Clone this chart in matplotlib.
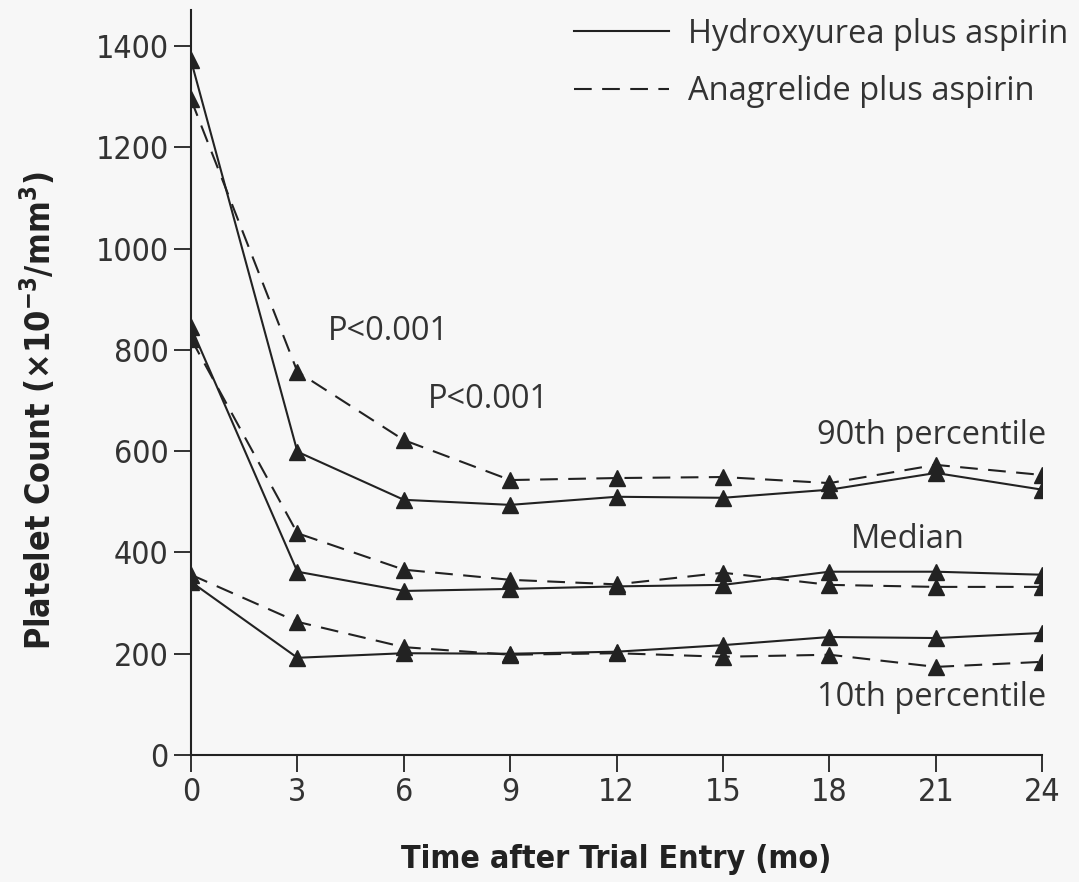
#!/usr/bin/env python3
"""Platelet count over time: hydroxyurea vs anagrelide (10th, median, 90th percentiles)."""

import matplotlib
matplotlib.use("Agg")
import matplotlib.pyplot as plt
from matplotlib.lines import Line2D

# ---------------------------------------------------------------------------
# Data
# ---------------------------------------------------------------------------
months = [0, 3, 6, 9, 12, 15, 18, 21, 24]

hu_p90 = [1372, 599, 504, 494, 510, 508, 524, 557, 524]
hu_med = [845, 362, 324, 328, 333, 336, 362, 362, 356]
hu_p10 = [342, 192, 201, 200, 204, 217, 233, 231, 241]

an_p90 = [1295, 757, 622, 543, 547, 549, 537, 573, 553]
an_med = [822, 438, 366, 346, 337, 360, 336, 332, 332]
an_p10 = [356, 263, 213, 198, 201, 194, 198, 174, 184]

legend_labels = ["Hydroxyurea plus aspirin", "Anagrelide plus aspirin"]
y_ticks = [0, 200, 400, 600, 800, 1000, 1200, 1400]

# ---------------------------------------------------------------------------
# Style
# ---------------------------------------------------------------------------
BG = "#f7f7f7"
INK = "#222222"
TXT = "#333333"
NARROW = dict(family="DejaVu Sans", fontstretch="condensed")
BODY = ["Open Sans", "DejaVu Sans"]
FS = 23.5

plt.rcParams["mathtext.default"] = "regular"

fig = plt.figure(figsize=(10.79, 8.82), dpi=100, facecolor=BG)
ax = fig.add_axes([0.177, 0.144, 0.789, 0.845])
ax.set_facecolor(BG)

dash = (0, (8.5, 5))
line_kw = dict(color=INK, lw=1.5, marker="^", ms=11, mfc=INK, mec=INK)

for series in (hu_p90, hu_med, hu_p10):
    ax.plot(months, series, ls="-", **line_kw, zorder=3)
for series in (an_p90, an_med, an_p10):
    ax.plot(months, series, ls=dash, **line_kw, zorder=3)

# axes
ax.set_xlim(0, 24)
ax.set_ylim(0, 1472)
ax.set_xticks(months)
ax.set_yticks(y_ticks)
for side in ("top", "right"):
    ax.spines[side].set_visible(False)
for side in ("left", "bottom"):
    ax.spines[side].set_color(INK)
    ax.spines[side].set_linewidth(1.5)
ax.tick_params(direction="out", length=12, width=1.3, color=INK,
               labelsize=23, labelcolor=TXT, pad=4)
for lab in ax.get_xticklabels() + ax.get_yticklabels():
    lab.set_family(NARROW["family"])
    lab.set_fontstretch(NARROW["fontstretch"])

ax.set_xlabel("Time after Trial Entry (mo)", fontweight="bold",
              fontsize=23, color=INK, labelpad=26, **NARROW)
ax.set_ylabel(r"Platelet Count (×10$^{-3}$/mm$^{3}$)",
              fontweight="bold", fontsize=24.5, color=INK, **NARROW)
ax.yaxis.set_label_coords(-0.157, 0.462)

# annotations
ax.text(3.86, 836, "P<0.001", family=BODY, fontsize=FS, color=TXT, va="center")
ax.text(6.68, 702, "P<0.001", family=BODY, fontsize=FS, color=TXT, va="center")
ax.text(24.1, 632, "90th percentile", family=BODY, fontsize=FS, color=TXT,
        va="center", ha="right")
ax.text(18.6, 425, "Median", family=BODY, fontsize=FS, color=TXT, va="center")
ax.text(24.1, 113, "10th percentile", family=BODY, fontsize=FS, color=TXT,
        va="center", ha="right")

# legend
handles = [Line2D([], [], color=INK, lw=1.5, ls="-"),
           Line2D([], [], color=INK, lw=1.5, ls=dash)]
leg = ax.legend(handles, legend_labels, loc="upper right",
                bbox_to_anchor=(1.046, 1.007), frameon=False, handlelength=2.9,
                handletextpad=0.6, labelspacing=0.75, borderaxespad=0.0,
                prop={"family": BODY, "size": FS})
for t in leg.get_texts():
    t.set_color(TXT)

fig.savefig("out.png", dpi=100, facecolor=BG)
